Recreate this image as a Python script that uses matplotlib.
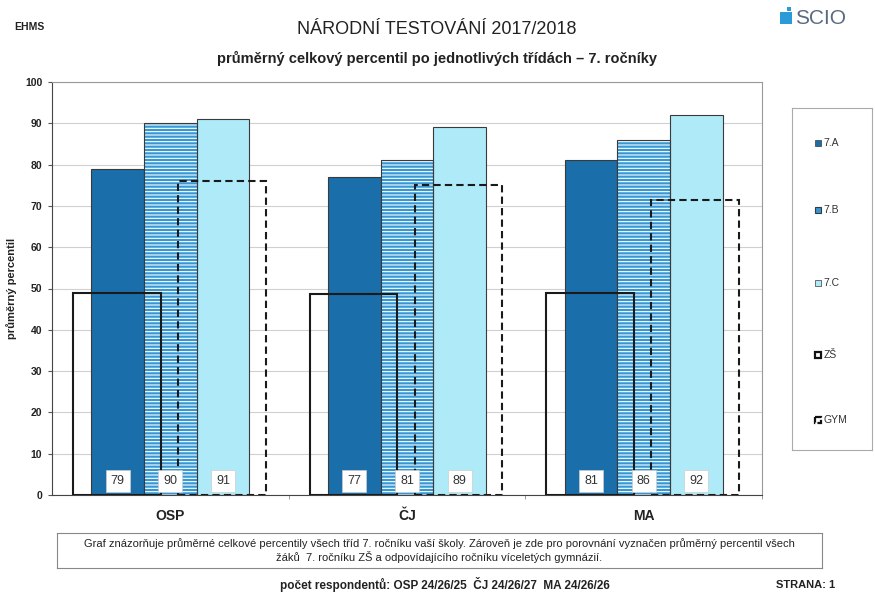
import matplotlib
matplotlib.use("Agg")
import matplotlib.pyplot as plt
from matplotlib.patches import Rectangle
import numpy as np

plt.rcParams['font.family'] = ['Liberation Sans', 'DejaVu Sans']
plt.rcParams['hatch.linewidth'] = 0.8

categories = ["OSP", "ČJ", "MA"]
series_names = ["7.A", "7.B", "7.C"]
val_7A = [79, 77, 81]
val_7B = [90, 81, 86]
val_7C = [91, 89, 92]
val_ZS = [49, 48.7, 49]
val_GYM = [76, 75, 71.5]
yticks = [0, 10, 20, 30, 40, 50, 60, 70, 80, 90, 100]

c7A = '#1a6eaa'
c7B = '#3597d4'
c7C = '#aeeaf8'
edge = '#3a3a3a'

fig = plt.figure(figsize=(8.75, 6.06), dpi=100)
ax = fig.add_axes([52/875, 1-495/606, 710/875, 413/606])

x = np.arange(len(categories))
w = 0.2226
ax.set_axisbelow(True)
ax.yaxis.grid(True, color='#d0d0d0', lw=0.8)

b1 = ax.bar(x - w, val_7A, w, color=c7A, edgecolor=edge, lw=0.8, zorder=2)
b2 = ax.bar(x, val_7B, w, color=c7B, edgecolor='white', hatch='-----', lw=0, zorder=2)
ax.bar(x, val_7B, w, fill=False, edgecolor=edge, lw=0.8, zorder=2.1)
b3 = ax.bar(x + w, val_7C, w, color=c7C, edgecolor=edge, lw=0.8, zorder=2)

wb = 0.37
ax.bar(x - 0.226, val_ZS, wb, fill=False, edgecolor='#1a1a1a', lw=1.5, zorder=3)
ax.bar(x + 0.218, val_GYM, wb, fill=False, edgecolor='#1a1a1a', lw=1.5,
       linestyle=(0, (3.5, 2)), zorder=3)

for bars, vals in ((b1, val_7A), (b2, val_7B), (b3, val_7C)):
    for rect, v in zip(bars, vals):
        ax.text(rect.get_x() + rect.get_width()/2, 3.4, f"{v:.0f}",
                ha='center', va='center', fontsize=9, color='#333333', zorder=5,
                bbox=dict(boxstyle='square,pad=0.4', fc='white', ec='#cccccc', lw=0.5))

ax.set_xlim(-0.5, 2.5)
ax.set_ylim(0, 100)
ax.set_yticks(yticks)
ax.set_yticklabels([str(t) for t in yticks], fontsize=7.5, fontweight='bold', color='#222222')
ax.set_xticks(x)
ax.set_xticklabels(categories, fontsize=10, fontweight='bold', color='#222222')
ax.tick_params(axis='x', length=0, pad=10)
ax.set_xticks([0.5, 1.5, 2.5], minor=True)
ax.tick_params(axis='x', which='minor', length=3, color='#888888')
ax.tick_params(axis='y', length=3, color='#555555', pad=4)
ax.spines['left'].set_color('#444444')
ax.spines['bottom'].set_color('#444444')
ax.spines['top'].set_color('#999999')
ax.spines['right'].set_color('#999999')
ax.set_ylabel("průměrný percentil", fontsize=8, fontweight='bold', color='#222222', labelpad=6)

# legend box
lax = fig.add_axes([792/875, 1-450/606, 80/875, 342/606])
lax.set_xlim(0, 1)
lax.set_ylim(450, 108)
lax.set_xticks([]); lax.set_yticks([])
for s in lax.spines.values():
    s.set_color('#aaaaaa'); s.set_linewidth(0.8)
leg_names = ["7.A", "7.B", "7.C", "ZŠ", "GYM"]
leg_y = [143, 210, 283, 355, 420]
leg_styles = [dict(fc=c7A, ec=edge, lw=0.5, ls='-'),
              dict(fc=c7B, ec=edge, lw=0.8, ls='-'),
              dict(fc=c7C, ec=edge, lw=0.5, ls='-'),
              dict(fc='white', ec='#111111', lw=1.6, ls='-'),
              dict(fc='white', ec='#111111', lw=1.6, ls=(0, (3, 1)))]
for name, yy, st in zip(leg_names, leg_y, leg_styles):
    lax.add_patch(Rectangle((0.29, yy - 3), 0.075, 6, **st))
    lax.text(0.39, yy, name, fontsize=7.5, va='center', ha='left', color='#333333')

# header texts
fig.text(437/875, 1-30/606, "NÁRODNÍ TESTOVÁNÍ 2017/2018", ha='center', va='center',
         fontsize=13, color='#222222')
fig.text(437/875, 1-58/606, "průměrný celkový percentil po jednotlivých třídách – 7. ročníky",
         ha='center', va='center', fontsize=10.5, fontweight='bold', color='#222222')
fig.text(14/875, 1-27/606, "EHMS", ha='left', va='center', fontsize=7.5, fontweight='bold', color='#222222')
# logo
fig.patches.append(Rectangle((780/875, 1-24/606), 12/875, 12/606, transform=fig.transFigure,
                             fc='#2a9ad8', ec='none'))
fig.patches.append(Rectangle((787/875, 1-11/606), 4/875, 4/606, transform=fig.transFigure,
                             fc='#2a9ad8', ec='none'))
fig.text(795/875, 1-19/606, "SCIO", ha='left', va='center', fontsize=15, color='#5a6a80')

# note box
nax = fig.add_axes([57/875, 1-568/606, 765/875, 35/606])
nax.set_xticks([]); nax.set_yticks([])
for s in nax.spines.values():
    s.set_color('#888888'); s.set_linewidth(0.8)
nax.text(0.5, 0.5, "Graf znázorňuje průměrné celkové percentily všech tříd 7. ročníku vaší školy. Zároveň je zde pro porovnání vyznačen průměrný percentil všech\n"
         "žáků  7. ročníku ZŠ a odpovídajícího ročníku víceletých gymnázií.",
         ha='center', va='center', fontsize=8, color='#222222', linespacing=1.25,
         transform=nax.transAxes)

fig.text(445/875, 1-585/606, "počet respondentů: OSP 24/26/25  ČJ 24/26/27  MA 24/26/26",
         ha='center', va='center', fontsize=8.5, fontweight='bold', color='#222222')
fig.text(835/875, 1-585/606, "STRANA: 1", ha='right', va='center', fontsize=8,
         fontweight='bold', color='#222222')

fig.savefig("out.png", dpi=100)
